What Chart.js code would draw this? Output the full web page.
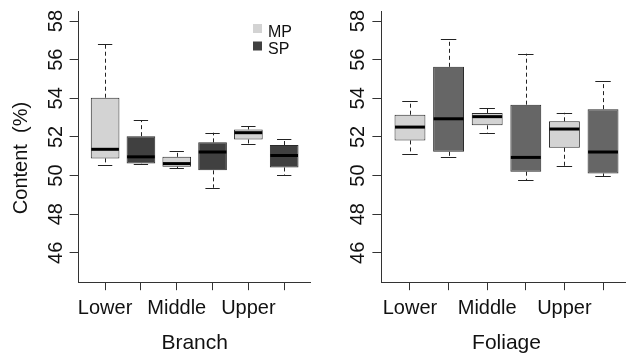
<!DOCTYPE html>
<html><head><meta charset="utf-8">
<script src="https://cdn.jsdelivr.net/npm/chart.js@4"></script>
<style>
html,body{margin:0;padding:0;background:#fff;overflow:hidden;width:626px;height:357px;}
#w{position:relative;width:626px;height:357px;overflow:hidden;background:#fff;}
canvas{position:absolute;top:0;}
</style></head><body><div id="w">
<canvas id="c1" width="330" height="357" style="left:0"></canvas>
<canvas id="c2" width="302" height="357" style="left:330px"></canvas>
</div>
<script>
// ---- data ----
const positions = [1, 2, 3, 4, 5, 6];
const xTickLabels = ["Lower", "", "Middle", "", "Upper", ""];
const groups = ["MP", "SP", "MP", "SP", "MP", "SP"];
const seriesNames = ["MP", "SP"];
const yTicks = [46, 48, 50, 52, 54, 56, 58];
const panelTitles = ["Branch", "Foliage"];
const yTitle = "Content  (%)";

// Branch panel
const branchWhiskerLow  = [50.56, 50.62, 50.37, 49.37, 51.63, 50.02];
const branchQ1          = [50.89, 50.63, 50.46, 50.27, 51.87, 50.42];
const branchMedian      = [51.36, 50.97, 50.62, 51.22, 52.22, 51.04];
const branchQ3          = [54.03, 52.04, 50.97, 51.72, 52.39, 51.58];
const branchWhiskerHigh = [56.81, 52.87, 51.28, 52.22, 52.56, 51.89];

// Foliage panel
const foliageWhiskerLow  = [51.13, 50.96, 52.22, 49.77, 50.48, 49.97];
const foliageQ1          = [51.82, 51.23, 52.60, 50.20, 51.44, 50.11];
const foliageMedian      = [52.51, 52.94, 53.05, 50.94, 52.41, 51.22];
const foliageQ3          = [53.15, 55.63, 53.24, 53.67, 52.81, 53.44];
const foliageWhiskerHigh = [53.84, 57.07, 53.49, 56.31, 53.25, 54.88];

// ---- styling ----
const FONT = "'Liberation Sans', Arial, Helvetica, sans-serif";
const AXIS_COLOR = '#333333';
const TEXT_COLOR = '#111111';
const MP_COLOR = '#d3d3d3';

const boxPlugin = {
  id: 'boxExtras',
  afterDatasetsDraw(chart, args, opts) {
    const ctx = chart.ctx;
    const y = chart.scales.y;
    const meta = chart.getDatasetMeta(0);
    ctx.save();
    meta.data.forEach((bar, i) => {
      const x = bar.x, w = bar.width;
      const pLo = y.getPixelForValue(opts.lo[i]);
      const pQ1 = y.getPixelForValue(opts.q1[i]);
      const pMed = y.getPixelForValue(opts.med[i]);
      const pQ3 = y.getPixelForValue(opts.q3[i]);
      const pHi = y.getPixelForValue(opts.hi[i]);
      const xc = Math.round(x) + 0.5;
      // dashed whiskers
      ctx.strokeStyle = '#222';
      ctx.lineWidth = 1;
      ctx.setLineDash([4, 3]);
      ctx.beginPath();
      ctx.moveTo(xc, pQ3); ctx.lineTo(xc, pHi);
      ctx.moveTo(xc, pQ1); ctx.lineTo(xc, pLo);
      ctx.stroke();
      ctx.setLineDash([]);
      // caps
      ctx.beginPath();
      ctx.moveTo(x - w / 4, Math.round(pHi) + 0.5); ctx.lineTo(x + w / 4, Math.round(pHi) + 0.5);
      ctx.moveTo(x - w / 4, Math.round(pLo) + 0.5); ctx.lineTo(x + w / 4, Math.round(pLo) + 0.5);
      ctx.stroke();
      // median
      ctx.strokeStyle = '#000';
      ctx.lineWidth = 3;
      ctx.beginPath();
      ctx.moveTo(x - w / 2 + 0.5, pMed); ctx.lineTo(x + w / 2 - 0.5, pMed);
      ctx.stroke();
    });
    ctx.restore();
  },
  afterDraw(chart, args, opts) {
    const ctx = chart.ctx;
    const y = chart.scales.y;
    ctx.save();
    ctx.fillStyle = TEXT_COLOR;
    ctx.font = '20px ' + FONT;
    ctx.textAlign = 'center';
    ctx.textBaseline = 'alphabetic';
    y.ticks.forEach(t => {
      const py = y.getPixelForValue(t.value);
      ctx.save();
      ctx.translate(chart.chartArea.left - 17, py);
      ctx.rotate(-Math.PI / 2);
      ctx.fillText(String(t.value), 0, 0);
      ctx.restore();
    });
    if (opts.yTitle) {
      ctx.save();
      ctx.font = '20px ' + FONT;
      ctx.translate(27, 158);
      ctx.rotate(-Math.PI / 2);
      ctx.textAlign = 'center';
      ctx.fillText(opts.yTitle, 0, 0);
      ctx.restore();
    }
    if (opts.legend) {
      const cols = opts.legendColors;
      ctx.font = '16px ' + FONT;
      ctx.textAlign = 'left';
      seriesNames.forEach((n, k) => {
        const top = 24 + k * 17.5;
        ctx.fillStyle = cols[k];
        ctx.fillRect(253, top, 9, 9);
        ctx.fillStyle = TEXT_COLOR;
        ctx.fillText(n, 268, top + 12.5);
      });
    }
    ctx.restore();
  }
};

function makeChart(canvasId, title, q1, q3, lo, med, hi, spColor, yAxisWidth, padRight, extra) {
  const colors = groups.map(g => g === 'MP' ? MP_COLOR : spColor);
  return new Chart(document.getElementById(canvasId), {
    type: 'bar',
    data: {
      datasets: [{
        data: positions.map((p, i) => ({ x: p, y: [q1[i], q3[i]] })),
        backgroundColor: colors,
        borderColor: '#2a2a2a',
        borderWidth: 1,
        borderSkipped: false,
        barPercentage: 0.8,
        categoryPercentage: 1.0
      }]
    },
    options: {
      responsive: false,
      animation: false,
      devicePixelRatio: 1,
      layout: { padding: { top: 11, right: padRight, bottom: 0, left: 0 } },
      plugins: {
        legend: { display: false },
        tooltip: { enabled: false },
        boxExtras: Object.assign({ lo, q1, med, q3, hi }, extra)
      },
      scales: {
        x: {
          type: 'linear',
          min: 0.26, max: 6.74,
          bounds: 'data',
          offset: false,
          afterBuildTicks: s => { s.ticks = positions.map(v => ({ value: v })); },
          afterFit: s => { s.height = 74.8; },
          grid: { offset: false, drawOnChartArea: false, drawTicks: true, tickLength: 8, color: AXIS_COLOR },
          border: { display: true, color: AXIS_COLOR, width: 1 },
          ticks: {
            autoSkip: false, maxRotation: 0, minRotation: 0, padding: 6,
            color: TEXT_COLOR,
            font: { family: FONT, size: 20, lineHeight: 1.2 },
            callback: (v, i) => xTickLabels[i]
          },
          title: {
            display: true, text: title, color: TEXT_COLOR,
            font: { family: FONT, size: 21, lineHeight: 1.2 },
            padding: { top: 0, bottom: 1 }
          }
        },
        y: {
          type: 'linear',
          min: 44.48, max: 58.52,
          bounds: 'data',
          afterBuildTicks: s => { s.ticks = yTicks.map(v => ({ value: v })); },
          afterFit: s => { s.width = yAxisWidth; },
          grid: { drawOnChartArea: false, drawTicks: true, tickLength: 9, color: AXIS_COLOR },
          border: { display: true, color: AXIS_COLOR, width: 1 },
          ticks: { display: false }
        }
      }
    },
    plugins: [boxPlugin]
  });
}

makeChart('c1', panelTitles[0], branchQ1, branchQ3, branchWhiskerLow, branchMedian, branchWhiskerHigh,
  '#404040', 78.6, 19.3, { yTitle: yTitle, legend: true, legendColors: [MP_COLOR, '#404040'] });
makeChart('c2', panelTitles[1], foliageQ1, foliageQ3, foliageWhiskerLow, foliageMedian, foliageWhiskerHigh,
  '#666666', 51.4, 0.4, {});
</script>
</body></html>
